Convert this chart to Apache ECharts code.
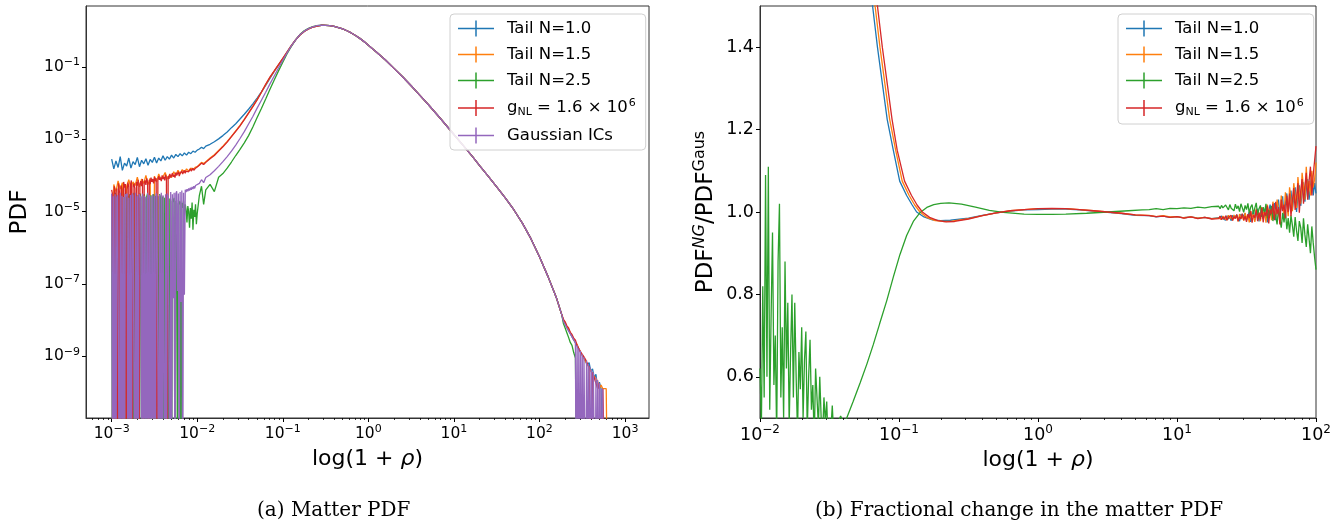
<!DOCTYPE html>
<html><head><meta charset="utf-8">
<script src="https://cdn.jsdelivr.net/npm/echarts@6/dist/echarts.min.js"></script>
<style>html,body{margin:0;padding:0;background:#fff}#c{width:1343px;height:525px}</style>
</head><body><div id="c"></div><script>
// All x values are log10(1+rho); left-panel y values are log10(PDF); null = empty bin (PDF = 0)
const E = null;
const names = ['Tail N=1.0', 'Tail N=1.5', 'Tail N=2.5', 'gNL', 'Gaussian ICs'];
const colors = ['#1f77b4', '#ff7f0e', '#2ca02c', '#d62728', '#9467bd'];

// tick labels (exponents / values)
const leftXTicks = [-3, -2, -1, 0, 1, 2, 3];
const leftYTicks = [-9, -7, -5, -3, -1];
const rightXTicks = [-2, -1, 0, 1, 2];
const rightYTicks = [0.6, 0.8, 1.0, 1.2, 1.4];

// ---------- Left panel: matter PDF ----------
// coarse low-density bins (blue, orange)
const lowX = [-3.000,-2.975,-2.950,-2.925,-2.900,-2.875,-2.850,-2.825,-2.800,-2.775,
  -2.750,-2.725,-2.700,-2.675,-2.650,-2.625,-2.600,-2.575,-2.550,-2.525,
  -2.500,-2.475,-2.450,-2.425,-2.400,-2.375,-2.350,-2.325,-2.300,-2.275,
  -2.250,-2.225,-2.200,-2.175,-2.150,-2.125,-2.100,-2.075,-2.050,-2.025,-2.000];
const blueLow = [-3.55,-3.82,-3.60,-3.78,-3.48,-3.86,-3.66,-3.74,-3.52,-3.80,
  -3.62,-3.70,-3.50,-3.76,-3.58,-3.68,-3.54,-3.72,-3.56,-3.64,
  -3.50,-3.66,-3.52,-3.60,-3.46,-3.58,-3.48,-3.55,-3.44,-3.52,
  -3.42,-3.48,-3.40,-3.46,-3.38,-3.44,-3.36,-3.40,-3.33,-3.36,-3.30];
const orangeLow = [E,-4.25,-4.45,-4.15,-4.38,-4.20,E,-4.30,-4.12,-4.35,
  -4.18,-4.28,-4.05,-4.32,-4.10,-4.22,-4.00,-4.25,-4.08,E,
  -4.02,-4.18,-3.96,-4.12,-4.04,-3.92,-4.10,-3.98,-4.06,-3.90,
  -4.00,-3.86,-3.96,-3.84,-3.92,-3.82,-3.88,-3.80,-3.84,-3.78,-3.76];
// fine low-density bins (green, red, purple)
const lowXf = [-3.00,-2.99,-2.98,-2.97,-2.96,-2.95,-2.94,-2.93,-2.92,-2.91,
  -2.90,-2.89,-2.88,-2.87,-2.86,-2.85,-2.84,-2.83,-2.82,-2.81,
  -2.80,-2.79,-2.78,-2.77,-2.76,-2.75,-2.74,-2.73,-2.72,-2.71,
  -2.70,-2.69,-2.68,-2.67,-2.66,-2.65,-2.64,-2.63,-2.62,-2.61,
  -2.60,-2.59,-2.58,-2.57,-2.56,-2.55,-2.54,-2.53,-2.52,-2.51,
  -2.50,-2.49,-2.48,-2.47,-2.46,-2.45,-2.44,-2.43,-2.42,-2.41,
  -2.40,-2.39,-2.38,-2.37,-2.36,-2.35,-2.34,-2.33,-2.32,-2.31,
  -2.30,-2.29,-2.28,-2.27,-2.26,-2.25,-2.24,-2.23,-2.22,-2.21,
  -2.20,-2.19,-2.18,-2.17,-2.16,-2.15,-2.14,-2.13,-2.12,-2.11,
  -2.10,-2.09,-2.08,-2.07,-2.06,-2.05,-2.04,-2.03,-2.02,-2.01,-2.00];
const greenLow = [-4.52,E,-4.60,E,-4.48,-4.56,E,-4.62,E,-4.50,
  E,-4.58,-4.54,E,-4.60,E,-4.50,-4.64,E,-4.56,
  E,-4.52,E,-4.60,-4.55,E,-4.48,E,-4.62,-4.58,
  E,-4.54,E,-4.50,-4.60,E,-4.56,E,-4.52,-4.64,
  E,-4.58,-4.50,E,-4.62,E,-4.55,E,-4.60,-4.52,
  E,-4.56,E,-4.64,-4.58,E,-4.52,-4.60,E,-4.66,
  -4.58,E,-4.62,-4.70,E,-4.60,-4.68,E,-4.64,-4.72,
  E,-4.66,-4.74,-4.62,E,-4.70,-4.78,E,-4.68,-4.80,
  -4.72,E,-4.76,-4.90,-4.70,-5.10,-4.80,-4.95,-5.30,-4.85,
  -5.00,-5.45,-4.90,-5.20,-4.75,-5.50,-4.95,-5.15,-4.80,-5.35,-5.05];
const redLow = [-4.40,-4.52,E,-4.30,-4.46,E,-4.36,E,-4.22,-4.44,
  E,-4.28,-4.38,E,-4.18,-4.34,-4.24,E,-4.40,-4.20,
  -4.32,E,-4.26,-4.14,E,-4.30,-4.22,-4.36,E,-4.18,
  -4.28,-4.12,E,-4.24,-4.16,-4.30,-4.10,E,-4.22,-4.14,
  -4.26,-4.08,-4.20,E,-4.12,-4.24,-4.06,-4.18,-4.10,-4.22,
  -4.04,-4.16,-4.08,E,-4.14,-4.02,-4.12,-4.06,-4.16,-4.00,
  -4.10,-4.04,-4.14,-3.98,-4.08,E,-4.02,-4.10,-3.96,-4.06,
  -4.00,-3.94,-4.04,-3.98,-4.06,-3.92,-4.00,-3.96,-3.90,-4.02,
  -3.94,-3.98,-3.88,-3.96,-3.92,-3.86,-3.94,-3.88,-3.92,-3.84,
  -3.90,-3.86,-3.82,-3.88,-3.84,-3.80,-3.86,-3.82,-3.80,-3.84,-3.78];
const purpleLow = [-4.50,E,-4.58,E,-4.52,E,-4.62,-4.55,-4.60,E,
  -4.48,E,-4.56,E,-4.60,E,-4.52,-4.58,-4.50,E,
  -4.62,E,-4.54,E,-4.50,-4.56,-4.60,E,-4.48,E,
  -4.58,E,-4.52,-4.55,-4.62,E,-4.50,E,-4.56,E,
  -4.60,E,-4.48,E,-4.54,E,-4.58,E,-4.52,E,
  -4.56,E,-4.50,-4.58,-4.62,E,-4.54,E,-4.48,E,
  -4.55,-4.60,E,-4.52,E,-4.50,-4.58,-4.54,E,-4.46,
  E,-4.52,-7.40,-4.48,E,-4.50,-4.44,-7.20,-4.50,E,
  -4.46,-7.50,-4.42,E,-4.48,-7.30,-4.40,-4.46,-4.38,-4.44,
  -4.36,-4.42,-4.34,-4.40,-4.32,-4.38,-4.30,-4.36,-4.28,-4.32,-4.28];

const midX = [-1.975,-1.95,-1.925,-1.90,-1.85,-1.80,-1.75,-1.70,-1.65,-1.60,
  -1.55,-1.50,-1.45,-1.40,-1.35,-1.30,-1.25,-1.20,-1.15,-1.10,
  -1.05,-1.00,-0.95,-0.90,-0.85,-0.80,-0.75,-0.70,-0.65,-0.60];
const blueMid = [-3.27,-3.22,-3.26,-3.19,-3.14,-3.07,-2.99,-2.90,-2.80,-2.68,
  -2.57,-2.44,-2.31,-2.17,-2.02,-1.86,-1.69,-1.51,-1.32,-1.126,
  -0.95,-0.78,-0.59,-0.412,-0.252,-0.116,-0.018,0.051,0.10,0.13];
const orangeMid = [-3.70,-3.64,-3.67,-3.62,-3.52,-3.43,-3.31,-3.19,-3.06,-2.92,
  -2.77,-2.62,-2.45,-2.27,-2.09,-1.90,-1.70,-1.49,-1.29,-1.118,
  -0.94,-0.772,-0.59,-0.412,-0.252,-0.116,-0.018,0.051,0.10,0.13];
const greenMid = [-4.55,-4.30,-4.80,-4.40,-4.25,-4.45,-4.05,-3.95,-3.80,-3.63,
  -3.45,-3.28,-3.10,-2.90,-2.66,-2.40,-2.15,-1.89,-1.62,-1.36,
  -1.11,-0.87,-0.635,-0.43,-0.251,-0.105,-0.002,0.068,0.115,0.14];
const redMid = [-3.72,-3.66,-3.70,-3.64,-3.54,-3.45,-3.33,-3.21,-3.08,-2.93,
  -2.78,-2.63,-2.46,-2.28,-2.10,-1.91,-1.70,-1.48,-1.28,-1.11,
  -0.935,-0.766,-0.588,-0.41,-0.252,-0.117,-0.019,0.050,0.10,0.13];
const purpleMid = [-4.22,-4.12,-4.20,-4.06,-3.98,-3.87,-3.75,-3.62,-3.48,-3.33,
  -3.16,-2.98,-2.79,-2.58,-2.37,-2.14,-1.92,-1.70,-1.47,-1.25,
  -1.03,-0.82,-0.61,-0.42,-0.25,-0.11,-0.01,0.06,0.11,0.14];

// common high-density side (all runs coincide)
const fallX = [-0.55,-0.50,-0.45,-0.40,-0.35,-0.30,-0.25,-0.20,-0.15,-0.10,
  -0.05,0.00,0.10,0.20,0.30,0.40,0.50,0.60,0.70,0.84,
  1.00,1.10,1.22,1.30,1.40,1.50,1.60,1.70,1.80,1.90,2.00,2.10,2.20,2.26];
const fallY = [0.152,0.15,0.14,0.12,0.09,0.05,0.0,-0.06,-0.13,-0.21,
  -0.30,-0.40,-0.60,-0.81,-1.04,-1.27,-1.52,-1.78,-2.04,-2.42,
  -2.87,-3.15,-3.49,-3.73,-4.02,-4.32,-4.62,-4.95,-5.32,-5.75,-6.25,-6.80,-7.40,-7.85];

const tailX = [2.28,2.30,2.32,2.34,2.36,2.38,2.40,2.42,2.44,2.46,
  2.48,2.50,2.52,2.54,2.56,2.58,2.60,2.62,2.64,2.66,
  2.68,2.70,2.72,2.74,2.76,2.78,2.80,2.82];
const blueTail = [-8.02,-8.06,-8.20,-8.22,-8.38,-8.40,-8.55,-8.58,-8.72,-8.74,
  -8.90,-8.92,-9.05,-9.10,-9.25,-9.18,-9.42,-9.35,-9.60,-9.50,
  -9.90,-9.72,-9.90,-9.90,E];
const orangeTail = [-8.00,-8.08,-8.18,-8.25,-8.35,-8.45,-8.50,-8.62,-8.68,-8.80,
  -8.84,-8.98,-9.00,-9.15,-9.20,-9.32,-9.30,-9.50,-9.55,-9.62,
  -9.70,-9.90,-9.80,-9.90,-9.90,-9.90,E];
const greenTail = [-8.10,-8.22,-8.35,-8.48,-8.62,-8.70,-8.90,-9.05,E];
const redTail = [-7.98,-8.05,-8.16,-8.22,-8.34,-8.40,-8.50,-8.56,-8.70,-8.72,
  -8.88,-8.90,-9.02,-9.10,-9.20,-9.30,E,-9.45,-9.60,-9.55,
  -9.90,-9.75,E,-9.90,-9.90,E];
const tailXf = [2.28,2.29,2.30,2.31,2.32,2.33,2.34,2.35,2.36,2.37,
  2.38,2.39,2.40,2.41,2.42,2.43,2.44,2.45,2.46,2.47,
  2.48,2.49,2.50,2.51,2.52,2.53,2.54,2.55,2.56,2.57,
  2.58,2.59,2.60,2.61,2.62,2.63,2.64,2.65,2.66,2.67,
  2.68,2.69,2.70,2.71,2.72,2.73,2.74,2.75];
const purpleTail = [-8.04,-8.08,-8.12,-8.16,-8.22,-8.24,-8.30,-8.34,-8.38,-8.42,
  -8.46,-8.50,-8.55,-8.58,-8.62,E,-8.70,E,-8.78,E,
  -8.86,E,-8.95,E,-9.02,-9.06,E,-9.12,E,-9.22,
  E,-9.30,E,-9.38,E,-9.45,-9.50,E,-9.58,E,
  -9.66,E,-9.75,E,-9.90,E,-9.90,E];

// ---------- Right panel: PDF ratio NG / Gaussian ----------
const rBlueX = [-1.26,-1.19,-1.155,-1.115,-1.085,-1.041,-0.995,-0.945,-0.905,-0.873,-0.82,-0.76,-0.70,-0.63,-0.50,-0.40,-0.30,-0.20,-0.10,0.00,0.10,0.20,0.30,0.40,0.50,0.60,0.70];
const rBlueY = [1.72,1.50,1.40,1.30,1.225,1.15,1.075,1.04,1.017,1.0,0.988,0.981,0.979,0.980,0.985,0.992,0.998,1.002,1.005,1.006,1.007,1.007,1.005,1.002,0.999,0.996,0.992];
const rOrangeX = [-1.237,-1.172,-1.137,-1.097,-1.067,-1.024,-0.977,-0.927,-0.887,-0.849,-0.80,-0.74,-0.68,-0.62,-0.50,-0.40,-0.30,-0.20,-0.10,0.00,0.10,0.20,0.30,0.40,0.50,0.60,0.70];
const rOrangeY = [1.72,1.50,1.40,1.30,1.225,1.15,1.075,1.04,1.017,1.0,0.987,0.979,0.977,0.978,0.984,0.991,0.998,1.003,1.006,1.008,1.008,1.008,1.006,1.003,1.000,0.997,0.993];
const rRedX = [-1.22,-1.155,-1.12,-1.08,-1.05,-1.013,-0.96,-0.91,-0.87,-0.832,-0.78,-0.72,-0.66,-0.60,-0.50,-0.40,-0.30,-0.20,-0.10,0.00,0.10,0.20,0.30,0.40,0.50,0.60,0.70];
const rRedY = [1.72,1.50,1.40,1.30,1.225,1.15,1.075,1.04,1.017,1.0,0.987,0.979,0.976,0.977,0.983,0.991,0.998,1.003,1.006,1.008,1.009,1.008,1.006,1.003,1.000,0.997,0.993];
const rGreenLowX = [-2.00,-1.99,-1.98,-1.97,-1.96,-1.95,-1.94,-1.93,-1.92,-1.91,
  -1.90,-1.89,-1.88,-1.87,-1.86,-1.85,-1.84,-1.83,-1.82,-1.81,
  -1.80,-1.79,-1.78,-1.77,-1.76,-1.75,-1.74,-1.73,-1.72,-1.71,
  -1.70,-1.69,-1.68,-1.67,-1.66,-1.65,-1.64,-1.63,-1.62,-1.61,
  -1.60,-1.59,-1.58,-1.57,-1.56,-1.55,-1.54,-1.53,-1.52,-1.51,
  -1.50,-1.49,-1.48,-1.47,-1.46];
const rGreenLowY = [0.62,0.48,0.82,0.55,1.09,0.60,1.11,0.52,0.75,0.95,
  0.58,0.70,0.45,0.88,1.02,0.55,0.72,0.50,0.88,0.62,
  0.78,0.48,0.66,0.80,0.55,0.78,0.60,0.46,0.66,0.57,
  0.72,0.50,0.64,0.71,0.47,0.60,0.69,0.52,0.58,0.44,
  0.62,0.55,0.48,0.60,0.50,0.45,0.55,0.49,0.54,0.44,
  0.50,0.47,0.53,0.46,0.49];
const rGreenX = [-1.45,-1.42,-1.40,-1.376,-1.33,-1.28,-1.23,-1.185,-1.14,-1.088,-1.04,-0.993,-0.945,-0.897,-0.85,-0.80,-0.75,-0.70,-0.64,-0.55,-0.45,-0.35,-0.25,-0.10,0.00,0.10,0.20,0.35,0.50,0.65,0.75];
const rGreenY = [0.48,0.505,0.49,0.50,0.54,0.585,0.632,0.678,0.728,0.785,0.843,0.897,0.943,0.977,0.998,1.011,1.018,1.021,1.022,1.019,1.012,1.004,0.999,0.995,0.994,0.994,0.995,0.997,1.000,1.003,1.005];
const rNoiseXa = [0.80,0.85,0.90,0.95,1.00,1.05,1.10,1.15,1.20,1.25];
const rBlueA = [0.991,0.988,0.990,0.987,0.989,0.986,0.988,0.985,0.987,0.984];
const rOrangeA = [0.992,0.989,0.991,0.988,0.989,0.986,0.988,0.985,0.987,0.984];
const rGreenA = [1.006,1.008,1.006,1.009,1.008,1.010,1.009,1.012,1.010,1.013];
const rRedA = [0.991,0.989,0.990,0.987,0.989,0.985,0.988,0.984,0.987,0.983];
const rNoiseXb = [1.30,1.31,1.32,1.33,1.34,1.35,1.36,1.37,1.38,1.39,
  1.40,1.41,1.42,1.43,1.44,1.45,1.46,1.47,1.48,1.49,
  1.50,1.51,1.52,1.53,1.54,1.55,1.56,1.57,1.58,1.59,
  1.60,1.61,1.62,1.63,1.64,1.65,1.66,1.67,1.68,1.69,
  1.70,1.71,1.72,1.73,1.74,1.75,1.76,1.77,1.78,1.79,
  1.80,1.81,1.82,1.83,1.84,1.85,1.86,1.87,1.88,1.89,
  1.90,1.91,1.92,1.93,1.94,1.95,1.96,1.97,1.98,1.99,2.00];
const rBlueB = [0.986,0.982,0.990,0.984,0.987,0.980,0.991,0.983,0.988,0.979,
  0.992,0.985,0.981,0.993,0.984,0.978,0.995,0.986,0.982,0.997,
  0.979,0.990,1.000,0.976,0.992,1.004,0.980,0.994,1.008,0.977,
  0.998,1.010,0.983,0.996,1.014,0.975,1.002,1.018,0.986,1.005,
  1.022,0.980,1.010,1.030,0.992,1.015,1.038,0.985,1.020,1.045,
  0.998,1.028,1.052,1.005,1.035,1.060,1.000,1.040,1.065,1.015,
  1.048,1.072,1.025,1.055,1.080,1.030,1.062,1.090,1.040,1.070,1.045];
const rOrangeB = [0.985,0.989,0.982,0.990,0.984,0.988,0.981,0.992,0.984,0.989,
  0.980,0.993,0.985,0.990,0.977,0.995,0.984,0.991,0.979,0.998,
  0.983,0.992,0.975,1.003,0.987,0.996,0.976,1.008,0.990,0.999,
  0.978,1.012,0.992,1.004,0.974,1.018,0.996,1.008,0.980,1.025,
  1.000,0.988,1.030,1.010,0.978,1.040,1.015,0.995,1.048,1.020,
  0.990,1.060,1.030,1.002,1.070,1.040,1.010,1.085,1.045,1.020,
  1.095,1.060,1.030,1.110,1.050,1.075,1.040,1.100,1.060,1.080,1.120];
const rGreenB = [1.014,1.008,1.016,1.010,1.006,1.017,1.011,1.005,1.018,1.009,
  1.013,1.003,1.019,1.008,1.015,1.001,1.020,1.010,0.999,1.016,
  1.006,1.021,0.997,1.012,1.018,0.995,1.010,1.022,0.992,1.008,
  1.016,0.988,1.012,0.998,1.020,0.985,1.005,0.992,1.015,0.978,
  1.000,0.990,0.970,1.008,0.982,0.962,0.998,0.975,1.004,0.958,
  0.985,0.950,0.992,0.968,0.940,0.988,0.955,0.930,0.978,0.962,
  0.925,0.985,0.945,0.915,0.970,0.935,0.900,0.965,0.925,0.890,0.860];
const rRedB = [0.984,0.990,0.981,0.988,0.983,0.991,0.980,0.987,0.985,0.992,
  0.979,0.989,0.984,0.994,0.978,0.988,0.983,0.996,0.980,0.990,
  0.976,0.995,0.985,1.002,0.974,0.992,0.986,1.005,0.978,0.998,
  0.982,1.010,0.975,1.000,0.990,1.015,0.972,1.006,0.995,1.020,
  0.980,1.025,0.995,1.012,0.970,1.030,1.002,1.018,0.985,1.040,
  1.000,1.045,0.990,1.028,1.058,1.005,1.035,1.070,0.998,1.050,
  1.080,1.020,1.062,1.095,1.030,1.075,1.110,1.040,1.090,1.125,1.160];

// ---------- build ----------
const BELOW = -14; // empty bins fall below the axis (like zero on a log axis)
function pts(xs, ys) {
  const out = [];
  const n = Math.min(xs.length, ys.length);
  for (let i = 0; i < n; i++) out.push([xs[i], ys[i] === null ? BELOW : ys[i]]);
  return out;
}
const leftData = [
  [...pts(lowX, blueLow), ...pts(midX, blueMid), ...pts(fallX, fallY), ...pts(tailX, blueTail)],
  [...pts(lowX, orangeLow), ...pts(midX, orangeMid), ...pts(fallX, fallY), ...pts(tailX, orangeTail)],
  [...pts(lowXf, greenLow), ...pts(midX, greenMid), ...pts(fallX, fallY), ...pts(tailX, greenTail)],
  [...pts(lowXf, redLow), ...pts(midX, redMid), ...pts(fallX, fallY), ...pts(tailX, redTail)],
  [...pts(lowXf, purpleLow), ...pts(midX, purpleMid), ...pts(fallX, fallY), ...pts(tailXf, purpleTail)]
];
const rightData = [
  [...pts(rBlueX, rBlueY), ...pts(rNoiseXa, rBlueA), ...pts(rNoiseXb, rBlueB)],
  [...pts(rOrangeX, rOrangeY), ...pts(rNoiseXa, rOrangeA), ...pts(rNoiseXb, rOrangeB)],
  [...pts(rGreenLowX, rGreenLowY), ...pts(rGreenX, rGreenY), ...pts(rNoiseXa, rGreenA), ...pts(rNoiseXb, rGreenB)],
  [...pts(rRedX, rRedY), ...pts(rNoiseXa, rRedA), ...pts(rNoiseXb, rRedB)]
];

function minorTicks(lo, hi) {
  const out = [];
  for (let k = Math.floor(lo); k <= Math.ceil(hi); k++)
    for (let m = 2; m <= 9; m++) { const v = k + Math.log10(m); if (v > lo && v < hi) out.push(v); }
  return out;
}
const FONT = 'DejaVu Sans';
const expLabel = v => { const k = Math.round(v); return '{b|10}{s|' + (k < 0 ? '\u2212' : '') + Math.abs(k) + '}'; };
function expRich(size) {
  return { b: { fontSize: size, fontFamily: FONT, color: '#000' },
           s: { fontSize: Math.round(size * 0.7), fontFamily: FONT, color: '#000', padding: [0, 0, Math.round(size * 0.6), 0] } };
}
const AX = '#333';

const L = { xMin: -3.30, xMax: 3.28, yMin: -10.71, yMax: 0.685, font: 15.5 };
const R = { xMin: -2, xMax: 2, yMin: 0.5, yMax: 1.5, font: 17.5 };

function mainX(grid, ext, ticks) {
  return {
    gridIndex: grid, type: 'value', min: ext.xMin, max: ext.xMax, position: 'bottom',
    axisLine: { show: true, onZero: false, lineStyle: { color: AX, width: 1 } },
    axisTick: { show: true, customValues: ticks, length: 4, lineStyle: { color: '#000', width: 1 } },
    axisLabel: { customValues: ticks, formatter: expLabel, rich: expRich(ext.font), margin: 6 },
    splitLine: { show: false },
    name: 'log(1 + {i|\u03c1})', nameLocation: 'middle', nameGap: 30,
    nameTextStyle: { fontSize: 22, fontFamily: FONT, color: '#000', rich: { i: { fontSize: 22, fontStyle: 'italic', fontFamily: FONT } } }
  };
}
function minorX(grid, ext) {
  return {
    gridIndex: grid, type: 'value', min: ext.xMin, max: ext.xMax, position: 'bottom',
    axisLine: { show: false, onZero: false }, axisLabel: { show: false }, splitLine: { show: false },
    axisTick: { show: true, customValues: minorTicks(ext.xMin, ext.xMax), length: 2, lineStyle: { color: '#000', width: 0.8 } }
  };
}

const legendIcon = 'path://M0,7.25h36v1.5h-36z M17.25,0h1.5v16h-1.5z';
const legendBase = {
  orient: 'vertical', icon: legendIcon, itemWidth: 36, itemHeight: 16, itemGap: 9,
  padding: [6, 10, 6, 8], backgroundColor: 'rgba(255,255,255,0.85)', borderColor: '#d0d0d0', borderWidth: 1, borderRadius: 4,
  selectedMode: false,
  textStyle: {
    fontSize: 16.5, fontFamily: FONT, color: '#000', padding: [0, 0, 0, 8],
    rich: {
      t: { fontSize: 16.5, fontFamily: FONT, color: '#000' },
      sub: { fontSize: 11, fontFamily: FONT, color: '#000', padding: [9, 0, 0, 0] },
      sup: { fontSize: 11, fontFamily: FONT, color: '#000', padding: [0, 0, 9, 1] }
    }
  },
  formatter: n => n === 'gNL' ? '{t|g}{sub|NL}{t| = 1.6 \u00d7 10}{sup|6}' : n
};

const series = [];
leftData.forEach((d, i) => series.push({
  name: names[i], type: 'line', xAxisIndex: 0, yAxisIndex: 0, data: d, color: colors[i],
  showSymbol: false, symbol: 'none', lineStyle: { width: 1.3, color: colors[i] }, clip: true, silent: true
}));
rightData.forEach((d, i) => series.push({
  name: names[i], type: 'line', xAxisIndex: 2, yAxisIndex: 1, data: d, color: colors[i],
  showSymbol: false, symbol: 'none', lineStyle: { width: 1.3, color: colors[i] }, clip: true, silent: true
}));

const chart = echarts.init(document.getElementById('c'), null, { renderer: 'canvas' });
chart.setOption({
  animation: false,
  backgroundColor: '#fff',
  textStyle: { fontFamily: FONT },
  grid: [
    { left: 86, top: 6, width: 563, height: 412, show: true, borderColor: AX, borderWidth: 1, backgroundColor: 'transparent' },
    { left: 760, top: 6, width: 556, height: 412, show: true, borderColor: AX, borderWidth: 1, backgroundColor: 'transparent' }
  ],
  xAxis: [mainX(0, L, leftXTicks), minorX(0, L), mainX(1, R, rightXTicks), minorX(1, R)],
  yAxis: [
    {
      gridIndex: 0, type: 'value', min: L.yMin, max: L.yMax,
      axisLine: { show: true, onZero: false, lineStyle: { color: AX } },
      axisTick: { show: true, customValues: leftYTicks, length: 4, lineStyle: { color: '#000' } },
      axisLabel: { customValues: leftYTicks, formatter: expLabel, rich: expRich(L.font), margin: 6 },
      splitLine: { show: false },
      name: 'PDF', nameLocation: 'middle', nameGap: 54,
      nameTextStyle: { fontSize: 23, fontFamily: FONT, color: '#000' }
    },
    {
      gridIndex: 1, type: 'value', min: R.yMin, max: R.yMax,
      axisLine: { show: true, onZero: false, lineStyle: { color: AX } },
      axisTick: { show: true, customValues: rightYTicks, length: 4, lineStyle: { color: '#000' } },
      axisLabel: { customValues: rightYTicks, formatter: v => v.toFixed(1), fontSize: R.font, color: '#000', margin: 6 },
      splitLine: { show: false },
      name: '{a|PDF}{n|NG}{a|/PDF}{g|Gaus}', nameLocation: 'middle', nameGap: 40,
      nameTextStyle: {
        fontSize: 23, fontFamily: FONT, color: '#000',
        rich: {
          a: { fontSize: 23, fontFamily: FONT, color: '#000' },
          n: { fontSize: 16, fontFamily: FONT, fontStyle: 'italic', color: '#000', padding: [0, 0, 12, 0] },
          g: { fontSize: 16, fontFamily: FONT, color: '#000', padding: [0, 0, 12, 0] }
        }
      }
    }
  ],
  legend: [
    Object.assign({}, legendBase, { left: 450, top: 14, data: names }),
    Object.assign({}, legendBase, { left: 1118, top: 14, data: names.slice(0, 4) })
  ],
  graphic: [
    { type: 'text', left: 257, top: 501, style: { text: '(a) Matter PDF', font: '20px "DejaVu Serif"', fill: '#000' } },
    { type: 'text', left: 815, top: 501, style: { text: '(b) Fractional change in the matter PDF', font: '20px "DejaVu Serif"', fill: '#000' } }
  ],
  series: series
});
</script></body></html>
